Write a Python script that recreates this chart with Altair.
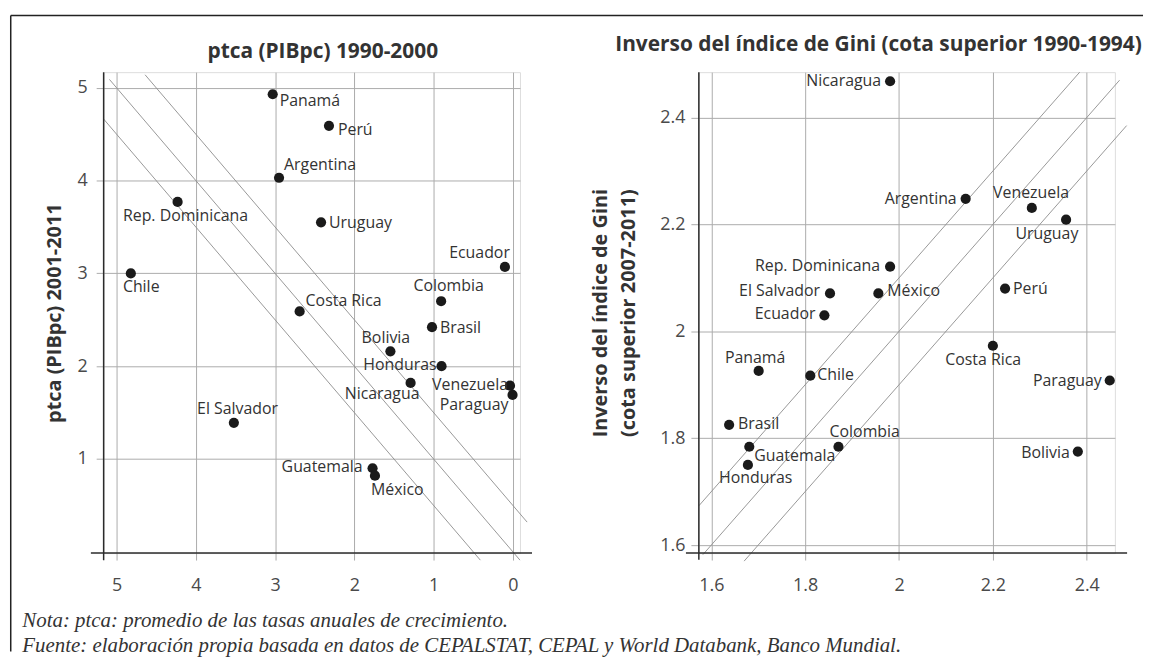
import altair as alt
import pandas as pd

# ---------------- data: left panel (ptca PIBpc) ----------------
left_countries = ["Panamá", "Perú", "Argentina", "Rep. Dominicana", "Uruguay", "Chile",
                  "Ecuador", "Colombia", "Costa Rica", "Brasil", "Bolivia", "Honduras",
                  "Nicaragua", "Venezuela", "Paraguay", "El Salvador", "Guatemala", "México"]
ptca_1990_2000 = [3.03, 2.32, 2.95, 4.23, 2.42, 4.82, 0.10, 0.905, 2.69, 1.02, 1.545, 0.90,
                  1.29, 0.036, 0.004, 3.52, 1.77, 1.74]
ptca_2001_2011 = [4.93, 4.59, 4.03, 3.77, 3.55, 3.00, 3.07, 2.70, 2.59, 2.42, 2.16, 2.00,
                  1.82, 1.79, 1.69, 1.39, 0.90, 0.82]

# ---------------- data: right panel (inverse Gini) ----------------
right_countries = ["Nicaragua", "Argentina", "Venezuela", "Uruguay", "Rep. Dominicana",
                   "El Salvador", "México", "Perú", "Ecuador", "Costa Rica", "Panamá", "Chile",
                   "Paraguay", "Brasil", "Guatemala", "Colombia", "Bolivia", "Honduras"]
gini_inv_1990_1994 = [1.981, 2.142, 2.283, 2.356, 1.981, 1.853, 1.956, 2.226, 1.841, 2.200,
                      1.701, 1.811, 2.449, 1.638, 1.681, 1.871, 2.381, 1.678]
gini_inv_2007_2011 = [2.468, 2.248, 2.231, 2.209, 2.121, 2.071, 2.071, 2.080, 2.030, 1.973,
                      1.926, 1.917, 1.908, 1.825, 1.784, 1.784, 1.775, 1.750]

# tick values
left_xticks = [0, 1, 2, 3, 4, 5]
left_yticks = [1, 2, 3, 4, 5]
right_ticks = [1.6, 1.8, 2.0, 2.2, 2.4]

# reference lines y = x + c, drawn between two x values
left_line_c = [-0.5, 0.0, 0.5]
left_line_x0 = [5.163, 5.09, 4.64]
left_line_x1 = [0.41, -0.09, -0.18]
right_line_c = [0.1, 0.0, -0.1]
right_line_x0 = [1.5735, 1.582, 1.67]
right_line_x1 = [2.385, 2.47, 2.485]

# texts
left_title = "ptca (PIBpc) 1990-2000"
left_ytitle = "ptca (PIBpc) 2001-2011"
right_title = "Inverso del índice de Gini (cota superior 1990-1994)"
right_ytitle = ["Inverso del índice de Gini", "(cota superior 2007-2011)"]
nota = "Nota: ptca: promedio de las tasas anuales de crecimiento."
fuente = "Fuente: elaboración propia basada en datos de CEPALSTAT, CEPAL y World Databank, Banco Mundial."

# label placement (pixel offsets from point, alignment)
left_label_place = {
    "Panamá": (7, 7, "left"), "Perú": (9, 4, "left"), "Argentina": (5, -13, "left"),
    "Rep. Dominicana": (-55, 14, "left"), "Uruguay": (8, 1, "left"), "Chile": (-8, 14, "left"),
    "Ecuador": (5, -14, "right"), "Colombia": (43, -15, "right"), "Costa Rica": (6, -10, "left"),
    "Brasil": (8, 1, "left"), "Bolivia": (-29, -13, "left"), "Honduras": (-5, -1, "right"),
    "Nicaragua": (9, 11, "right"), "Venezuela": (-2, -1, "right"), "Paraguay": (-4, 10, "right"),
    "El Salvador": (-37, -14, "left"), "Guatemala": (-10, -1, "right"), "México": (-4, 14, "left"),
}
right_label_place = {
    "Nicaragua": (-9, 0, "right"), "Argentina": (-9, 0, "right"), "Venezuela": (-39, -15, "left"),
    "Uruguay": (-51, 14, "left"), "Rep. Dominicana": (-10, -1, "right"),
    "El Salvador": (-10, -2, "right"), "México": (9, -2, "left"), "Perú": (8, 0, "left"),
    "Ecuador": (-9, -1, "right"), "Costa Rica": (-48, 14, "left"), "Panamá": (-34, -13, "left"),
    "Chile": (7, -1, "left"), "Paraguay": (-8, 1, "right"), "Brasil": (9, -1, "left"),
    "Guatemala": (5, 9, "left"), "Colombia": (-9, -15, "left"), "Bolivia": (-8, 1, "right"),
    "Honduras": (-29, 13, "left"),
}

# ---------------- layout constants ----------------
H = 484
LW = 419
RW = 418.7
left_xdom = [-0.09, 5.163]
left_ydom = [-0.014, 5.168]
right_xdom = [1.5735, 2.460]
right_ydom = [1.585, 2.485]

TXT = "#333333"
GRID = "#ababab"
AX = "#2b2b2b"
FONT = "Open Sans"


def label_frame(countries, xs, ys, place, xdom, ydom, W, reverse):
    ppx = W / (xdom[1] - xdom[0])
    ppy = H / (ydom[1] - ydom[0])
    rows = []
    for c, x, y in zip(countries, xs, ys):
        dx, dy, al = place[c]
        lx = x - dx / ppx if reverse else x + dx / ppx
        ly = y - dy / ppy
        rows.append({"country": c, "x": x, "y": y, "lx": lx, "ly": ly, "align": al})
    return pd.DataFrame(rows)


def line_frame(cs, x0s, x1s):
    rows = []
    for i, (c, a, b) in enumerate(zip(cs, x0s, x1s)):
        rows.append({"id": i, "x": a, "y": a + c})
        rows.append({"id": i, "x": b, "y": b + c})
    return pd.DataFrame(rows)


def panel(df, lines, axis_segments, xdom, ydom, W, reverse, xticks, yticks, fmt,
          ytitle, ytitle_x, ytick_size, ylabel_pad, extras):
    xs = alt.Scale(domain=xdom, nice=False, zero=False, reverse=reverse)
    ys = alt.Scale(domain=ydom, nice=False, zero=False)
    xax = alt.Axis(values=xticks, format=fmt, title=None, domain=False, grid=True,
                   gridColor=GRID, gridWidth=1, tickColor=GRID, tickSize=7, tickWidth=1,
                   labelFontSize=18, labelColor="#4a4a4a", labelBaseline="middle",
                   labelPadding=26, labelFont=FONT, labelFlush=False)
    yax = alt.Axis(values=yticks, format=fmt, domain=False, grid=True,
                   gridColor=GRID, gridWidth=1, tickColor=GRID, tickSize=ytick_size, tickWidth=1,
                   labelFontSize=18, labelColor="#4a4a4a", labelPadding=ylabel_pad, labelFont=FONT,
                   labelFlush=False, title=ytitle, titleFont=FONT, titleFontSize=20,
                   titleFontWeight="bold", titleColor=TXT, titleAngle=270, titleX=ytitle_x,
                   titleY=H / 2, titleBaseline="middle", titleAlign="center", titleLineHeight=28)

    base = alt.Chart(df)
    pts = base.mark_circle(size=105, color="#1a1a1a", opacity=1).encode(
        x=alt.X("x:Q", scale=xs, axis=xax), y=alt.Y("y:Q", scale=ys, axis=yax))
    diag = alt.Chart(lines).mark_line(color="#8c8c8c", strokeWidth=0.9).encode(
        x=alt.X("x:Q", scale=xs, axis=xax), y=alt.Y("y:Q", scale=ys, axis=yax), detail="id:N")
    axl = alt.Chart(axis_segments).mark_rule(color=AX, strokeWidth=1.5).encode(
        x=alt.X("x:Q", scale=xs, axis=xax), y=alt.Y("y:Q", scale=ys, axis=yax),
        x2="x2:Q", y2="y2:Q")
    layers = [diag, axl, pts]
    for al in ["left", "right"]:
        sub = df[df["align"] == al]
        layers.append(alt.Chart(sub).mark_text(align=al, baseline="middle", fontSize=16,
                                               color=TXT, font=FONT).encode(
            x=alt.X("lx:Q", scale=xs, axis=xax), y=alt.Y("ly:Q", scale=ys, axis=yax),
            text="country:N"))
    layers += extras
    return alt.layer(*layers).properties(width=W, height=H)


one = pd.DataFrame({"k": [0]})

# left panel
ldf = label_frame(left_countries, ptca_1990_2000, ptca_2001_2011, left_label_place,
                  left_xdom, left_ydom, LW, True)
llines = line_frame(left_line_c, left_line_x0, left_line_x1)
laxis = pd.DataFrame({"x": [5.324, 5.163], "x2": [-0.242, 5.163],
                      "y": [-0.014, -0.091], "y2": [-0.014, 5.168]})

left_extras = [
    alt.Chart(one).mark_rule(color="#222222", strokeWidth=1.5).encode(
        x=alt.value(-93.5), y=alt.value(-57), y2=alt.value(583)),
    alt.Chart(one).mark_rule(color="#222222", strokeWidth=1.5).encode(
        x=alt.value(-93.5), x2=alt.value(1046), y=alt.value(-57)),
    alt.Chart(one).mark_text(text=left_title, align="center", baseline="alphabetic",
                             fontSize=21, fontWeight="bold", color=TXT, font=FONT).encode(
        x=alt.value(220.5), y=alt.value(-14.3)),
    alt.Chart(one).mark_text(text=nota, align="left", baseline="alphabetic", fontSize=21,
                             fontStyle="italic", color=TXT, font="Liberation Serif").encode(
        x=alt.value(-81.8), y=alt.value(558.7)),
    alt.Chart(one).mark_text(text=fuente, align="left", baseline="alphabetic", fontSize=21,
                             fontStyle="italic", color=TXT, font="Liberation Serif").encode(
        x=alt.value(-81.8), y=alt.value(583.7)),
]

left = panel(ldf, llines, laxis, left_xdom, left_ydom, LW, True, left_xticks, left_yticks, "d",
             left_ytitle, -49.5, 7.5, 9, left_extras)

# right panel
rdf = label_frame(right_countries, gini_inv_1990_1994, gini_inv_2007_2011, right_label_place,
                  right_xdom, right_ydom, RW, False)
rlines = line_frame(right_line_c, right_line_x0, right_line_x1)
raxis = pd.DataFrame({"x": [1.546, 1.5735], "x2": [2.486, 1.5735],
                      "y": [1.585, 1.5726], "y2": [1.585, 2.485]})
right_extras = [
    alt.Chart(one).mark_text(text=right_title, align="center", baseline="alphabetic",
                             fontSize=21, fontWeight="bold", color=TXT, font=FONT).encode(
        x=alt.value(180.8), y=alt.value(-21.5)),
]
right = panel(rdf, rlines, raxis, right_xdom, right_ydom, RW, False, right_ticks, right_ticks, "~g",
              right_ytitle, -99, 8, 6, right_extras)

chart = alt.hconcat(left, right, spacing=180, bounds="flush").properties(
    padding={"left": 1.25, "top": 3.5, "right": 0, "bottom": 0}
).configure_view(stroke=None).configure(font=FONT)

chart.save("out.html", embed_options={"renderer": "svg", "actions": False})
